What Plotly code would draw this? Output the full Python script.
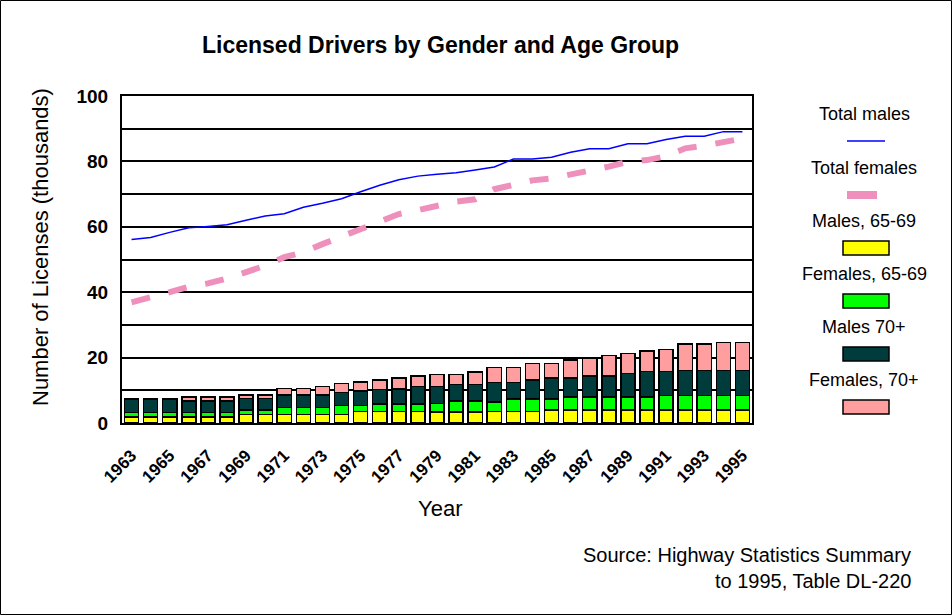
import plotly.graph_objects as go

years = list(range(1963, 1996))
males_65_69 = [1.9, 1.9, 1.9, 1.9, 1.9, 1.9, 2.6, 2.6, 2.6, 2.6, 2.6, 2.6, 3.5, 3.5, 3.5, 3.5,
               3.4, 3.4, 3.4, 3.5, 3.5, 3.5, 4.0, 4.0, 4.0, 4.0, 4.0, 4.0, 4.0, 4.0, 4.0, 4.0, 4.0]
females_65_69 = [1.3, 1.3, 1.3, 1.3, 1.3, 1.3, 1.4, 1.4, 2.1, 2.1, 2.1, 2.7, 1.8, 2.3, 2.3, 2.3,
                 2.6, 3.3, 3.3, 3.0, 3.8, 3.8, 3.3, 3.9, 3.9, 3.9, 3.9, 3.9, 4.4, 4.4, 4.4, 4.4, 4.4]
males_70 = [4.1, 4.1, 4.1, 3.5, 3.5, 3.5, 3.5, 3.5, 3.9, 3.9, 3.9, 4.0, 4.5, 4.5, 4.6, 5.3,
            5.1, 5.1, 5.1, 5.9, 5.1, 5.8, 6.5, 5.9, 6.5, 6.5, 7.2, 7.9, 7.4, 7.7, 7.7, 7.7, 7.7]
females_70 = [0.0, 0.0, 0.0, 1.3, 1.3, 1.3, 1.1, 1.1, 1.9, 1.9, 2.5, 2.8, 2.8, 2.8, 3.4, 3.3,
              3.8, 3.1, 3.8, 4.5, 4.5, 5.1, 4.4, 5.5, 5.5, 6.3, 6.1, 6.2, 6.7, 8.0, 8.0, 8.5, 8.5]
total_males = [56.1, 56.7, 58.3, 59.7, 60.1, 60.6, 62.0, 63.3, 64.0, 66.0, 67.2, 68.6, 70.7, 72.7,
               74.4, 75.5, 76.1, 76.5, 77.4, 78.3, 80.7, 80.7, 81.3, 82.8, 83.9, 83.9, 85.4, 85.4,
               86.7, 87.7, 87.7, 89.1, 89.1]
total_females = [36.9, 38.3, 40.0, 41.7, 42.7, 44.2, 46.1, 48.1, 50.7, 52.2, 54.7, 57.0, 59.3, 61.3,
                 63.9, 65.1, 66.4, 67.7, 68.4, 71.5, 72.8, 74.2, 74.8, 75.9, 77.3, 78.4, 79.9, 80.4,
                 81.6, 84.0, 84.8, 85.7, 87.0]
x_tick_labels = [str(y) for y in range(1963, 1996, 2)]
y_tick_vals = [0, 20, 40, 60, 80, 100]

FONT = "Arial, 'Liberation Sans', sans-serif"
W, H = 952, 615
L, R, T, B = 122, 200, 96, 192
PW, PH = W - L - R, H - T - B


def px(xp):
    return (xp - L) / PW


def py(yp):
    return (H - B - yp) / PH


fig = go.Figure()
bar_specs = [
    ("Males, 65-69", males_65_69, "#FFFF00"),
    ("Females, 65-69", females_65_69, "#00FF00"),
    ("Males 70+", males_70, "#003C3C"),
    ("Females, 70+", females_70, "#FF9E9E"),
]
for name, vals, col in bar_specs:
    fig.add_trace(go.Bar(x=years, y=vals, name=name, marker=dict(color=col, line=dict(color="black", width=1.5)),
                         width=0.74, showlegend=False))

fig.add_trace(go.Scatter(x=years, y=total_males, mode="lines", name="Total males",
                         line=dict(color="#0000FF", width=1.5), showlegend=False))
fig.add_trace(go.Scatter(x=years, y=total_females, mode="lines", name="Total females",
                         line=dict(color="#EE90BB", width=6, dash="19px,19px"), showlegend=False))

shapes = []
annotations = []

# outer frame
shapes.append(dict(type="rect", xref="paper", yref="paper",
                   x0=px(0.5), x1=px(W - 0.5), y0=py(H - 0.5), y1=py(0.5),
                   line=dict(color="black", width=1)))

# legend (text above symbol)
leg_cx = 864
leg_items = [
    ("Total males", 114, "line", "#0000FF"),
    ("Total females", 168, "thick", "#EE90BB"),
    ("Males, 65-69", 221, "rect", "#FFFF00"),
    ("Females, 65-69", 274, "rect", "#00FF00"),
    ("Males 70+", 327, "rect", "#003C3C"),
    ("Females, 70+", 380, "rect", "#FF9E9E"),
]
for text, ty, kind, col in leg_items:
    annotations.append(dict(x=px(leg_cx), y=py(ty), xref="paper", yref="paper", text=text,
                            showarrow=False, font=dict(family=FONT, size=18, color="black"),
                            xanchor="center", yanchor="middle"))
    sy = ty + 27
    if kind == "line":
        shapes.append(dict(type="line", xref="paper", yref="paper", x0=px(847), x1=px(885),
                           y0=py(sy), y1=py(sy), line=dict(color=col, width=1.5)))
    elif kind == "thick":
        shapes.append(dict(type="line", xref="paper", yref="paper", x0=px(847), x1=px(877),
                           y0=py(sy), y1=py(sy), line=dict(color=col, width=8)))
    else:
        shapes.append(dict(type="rect", xref="paper", yref="paper", x0=px(843), x1=px(889),
                           y0=py(sy + 7), y1=py(sy - 7), fillcolor=col,
                           line=dict(color="black", width=1.5)))

annotations += [
    dict(x=px(440), y=py(45), xref="paper", yref="paper", text="<b>Licensed Drivers by Gender and Age Group</b>",
         showarrow=False, font=dict(family=FONT, size=23, color="black"), xanchor="center", yanchor="middle"),
    dict(x=px(40), y=py(247), xref="paper", yref="paper", text="Number of Licenses (thousands)",
         showarrow=False, textangle=-90, font=dict(family=FONT, size=22, color="black"),
         xanchor="center", yanchor="middle"),
    dict(x=px(440), y=py(508), xref="paper", yref="paper", text="Year",
         showarrow=False, font=dict(family=FONT, size=22, color="black"), xanchor="center", yanchor="middle"),
    dict(x=px(913), y=py(555), xref="paper", yref="paper", text="Source: Highway Statistics Summary",
         showarrow=False, font=dict(family=FONT, size=20, color="black"), xanchor="right", yanchor="middle"),
    dict(x=px(913), y=py(581), xref="paper", yref="paper", text="to 1995, Table DL-220",
         showarrow=False, font=dict(family=FONT, size=20, color="black"), xanchor="right", yanchor="middle"),
]

fig.update_layout(
    width=W, height=H,
    margin=dict(l=L, r=R, t=T, b=B),
    paper_bgcolor="white", plot_bgcolor="white",
    barmode="stack",
    showlegend=False,
    shapes=shapes, annotations=annotations,
    font=dict(family=FONT, color="black"),
)
fig.update_xaxes(range=[1962.5, 1995.5], tickmode="array",
                 tickvals=[int(t) for t in x_tick_labels],
                 ticktext=["<b>%s</b>" % t for t in x_tick_labels],
                 tickangle=-45, tickfont=dict(family=FONT, size=17, color="black"),
                 showgrid=False, showline=True, linecolor="black", linewidth=2, mirror=True,
                 ticks="", zeroline=False, ticklabelstandoff=14)
fig.update_yaxes(range=[0, 100], tickmode="array", tickvals=y_tick_vals,
                 ticktext=["<b>%d</b>" % v for v in y_tick_vals],
                 tickfont=dict(family=FONT, size=19, color="black"),
                 showgrid=True, gridcolor="black", gridwidth=2,
                 minor=dict(tickmode="linear", tick0=0, dtick=10, showgrid=True, gridcolor="black", gridwidth=2),
                 showline=True, linecolor="black", linewidth=2, mirror=True,
                 ticks="", zeroline=False, ticklabelstandoff=8)

fig.write_html("out.html", config={"displayModeBar": False},
               post_script="document.body.style.margin='0';")
